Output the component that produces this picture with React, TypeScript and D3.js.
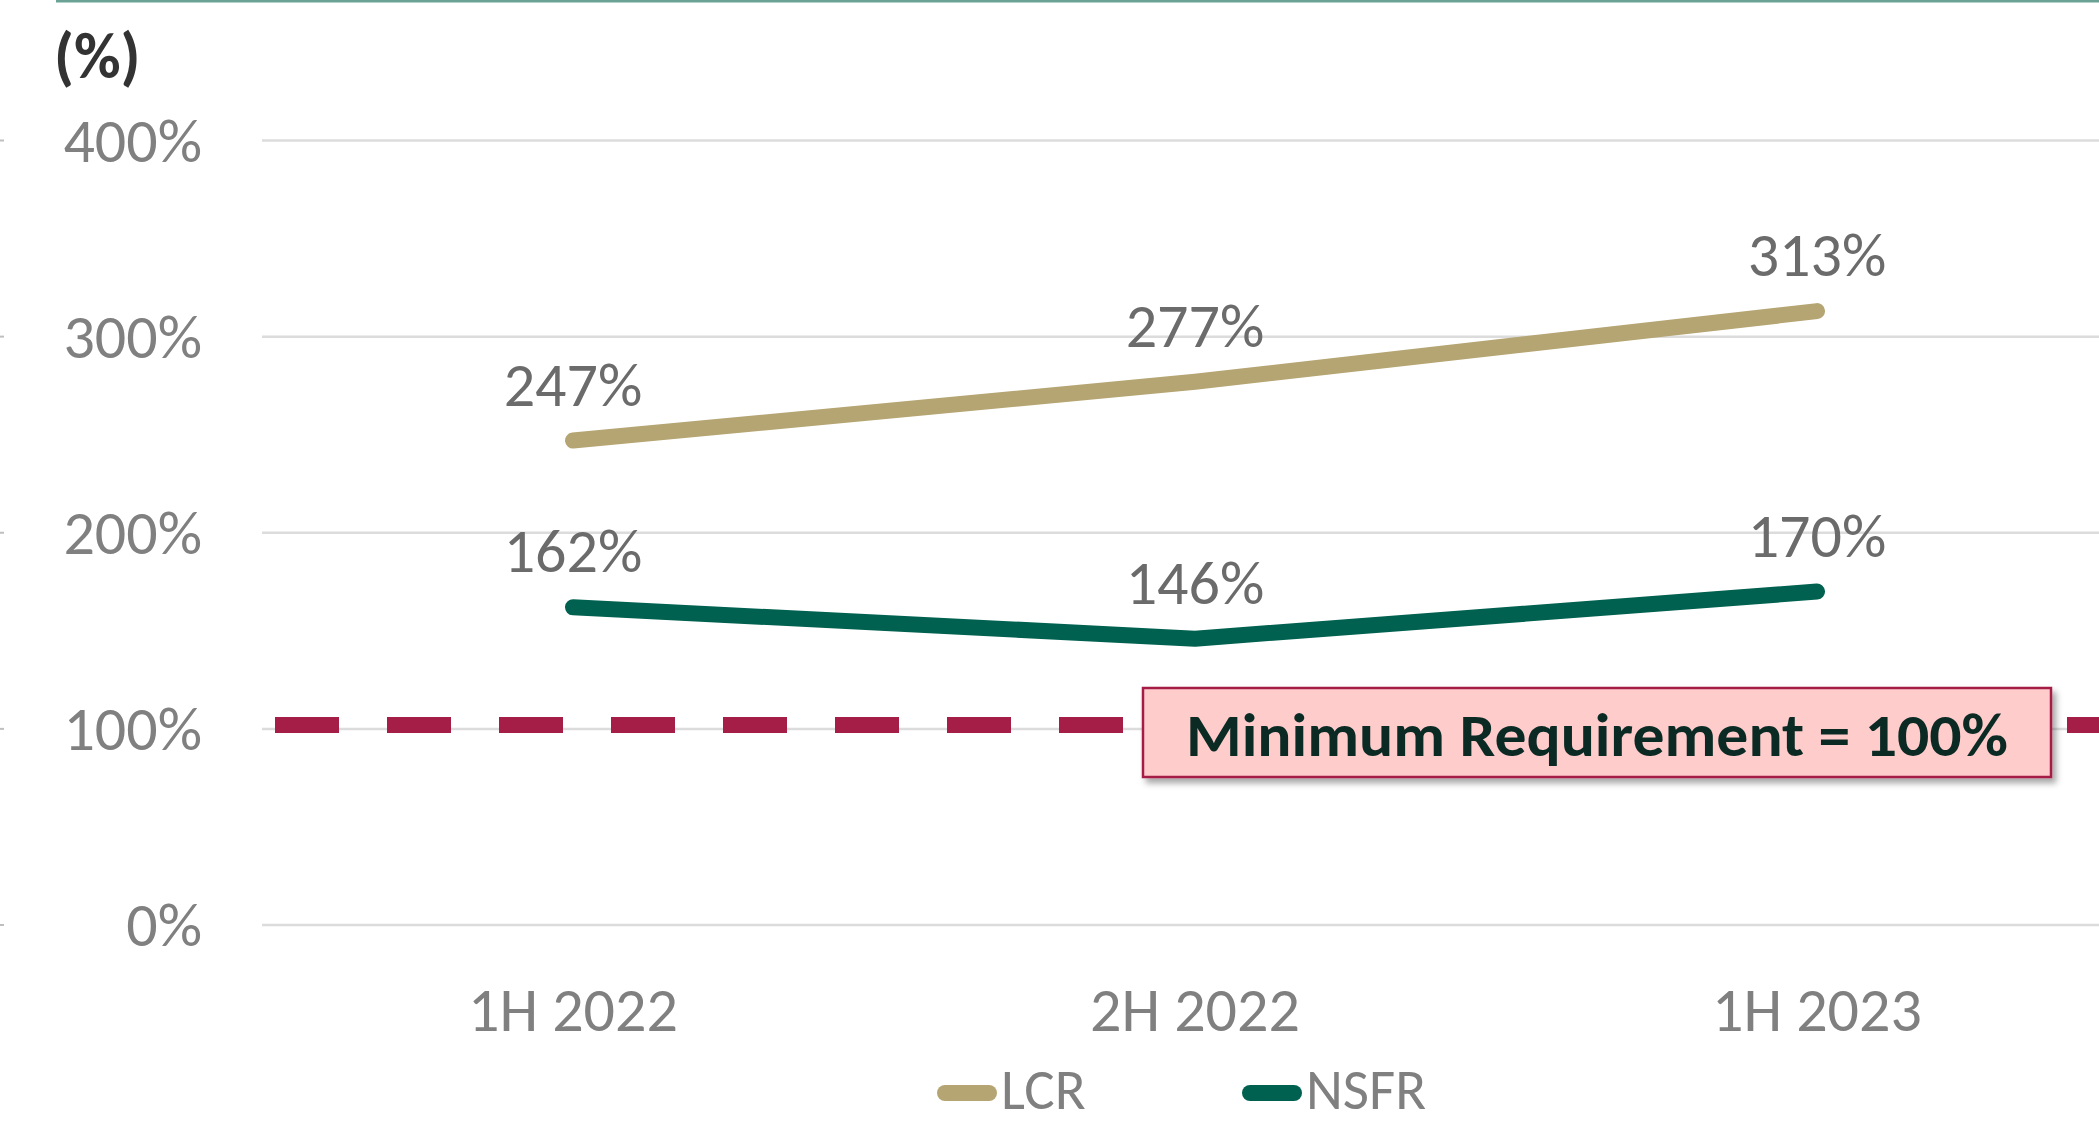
import React from 'react';
import * as d3 from 'd3';

const categories = ['1H 2022', '2H 2022', '1H 2023'];
const lcrValues = [247, 277, 313];
const nsfrValues = [162, 146, 170];
const yTicks = [0, 100, 200, 300, 400];
const minimumRequirement = 100;

const W = 2099;
const H = 1123;
const FONT = 'Calibri, Carlito, Lato, sans-serif';
const FS = 62;

const LCR_COLOR = '#b5a572';
const NSFR_COLOR = '#006150';
const DASH_COLOR = '#a51e47';

export default function App() {
  // plot band spans past the right edge, the picture is cropped there
  const x = d3.scaleBand().domain(categories).range([262, 2128]);
  const y = d3.scaleLinear().domain([0, 400]).range([925, 140.5]);
  const cx = (c: string) => (x(c) || 0) + x.bandwidth() / 2;

  const line = d3
    .line<number>()
    .x((_, i) => cx(categories[i]))
    .y((d) => y(d));

  const series = [
    { name: 'LCR', values: lcrValues, color: LCR_COLOR },
    { name: 'NSFR', values: nsfrValues, color: NSFR_COLOR },
  ];

  return (
    <div style={{ position: 'absolute', left: 0, top: 0 }}>
      <svg width={W} height={H} style={{ display: 'block', background: '#fff' }}>
        <defs>
          <filter id='shadow' x='-5%' y='-20%' width='110%' height='150%'>
            <feDropShadow dx='4' dy='5' stdDeviation='3' floodColor='#000' floodOpacity='0.35' />
          </filter>
        </defs>

        {/* thin teal rule at the top */}
        <line x1={56} x2={W} y1={1} y2={1} stroke='#6aa396' strokeWidth={3} />

        <text x={54} y={78} fontFamily={FONT} fontWeight='bold' fontSize={64} fill='#333'>
          (%)
        </text>

        {/* gridlines and y labels */}
        {yTicks.map((t) => (
          <g key={t}>
            <line x1={262} x2={W} y1={y(t)} y2={y(t)} stroke='#dcdcdc' strokeWidth={2.5} />
            <line x1={0} x2={4} y1={y(t)} y2={y(t)} stroke='#bfbfbf' strokeWidth={2} />
            <text
              x={202}
              y={y(t) + 21}
              textAnchor='end'
              fontFamily={FONT}
              fontSize={FS}
              fill='#808080'
            >
              {t}%
            </text>
          </g>
        ))}

        {/* x labels */}
        {categories.map((c) => (
          <text
            key={c}
            x={cx(c)}
            y={1031}
            textAnchor='middle'
            fontFamily={FONT}
            fontSize={FS}
            fill='#808080'
          >
            {c}
          </text>
        ))}

        {/* minimum requirement */}
        <line
          x1={275}
          x2={W}
          y1={y(minimumRequirement) - 4}
          y2={y(minimumRequirement) - 4}
          stroke={DASH_COLOR}
          strokeWidth={16}
          strokeDasharray='64 48'
        />

        {series.map((s) => (
          <g key={s.name}>
            <path
              d={line(s.values) || ''}
              fill='none'
              stroke={s.color}
              strokeWidth={16}
              strokeLinecap='round'
              strokeLinejoin='round'
            />
            {s.values.map((v, i) => (
              <text
                key={i}
                x={cx(categories[i])}
                y={y(v) - 35}
                textAnchor='middle'
                fontFamily={FONT}
                fontSize={FS}
                fill='#6b6b6b'
              >
                {v}%
              </text>
            ))}
          </g>
        ))}

        {/* annotation box */}
        <rect
          x={1143}
          y={688}
          width={908}
          height={89}
          fill='#ffcccc'
          stroke={DASH_COLOR}
          strokeWidth={2.5}
          filter='url(#shadow)'
        />
        <text
          x={1597}
          y={756}
          textAnchor='middle'
          fontFamily={FONT}
          fontWeight='bold'
          fontSize={60}
          fill='#0b2a24'
          textLength={822}
          lengthAdjust='spacingAndGlyphs'
        >
          Minimum Requirement = {minimumRequirement}%
        </text>

        {/* legend */}
        {series.map((s, i) => {
          const lx = [937, 1242][i];
          return (
            <g key={s.name}>
              <line
                x1={lx + 8}
                x2={lx + 52}
                y1={1093}
                y2={1093}
                stroke={s.color}
                strokeWidth={16}
                strokeLinecap='round'
              />
              <text x={lx + 64} y={1109} fontFamily={FONT} fontSize={57} fill='#808080'>
                {s.name}
              </text>
            </g>
          );
        })}
      </svg>
    </div>
  );
}
